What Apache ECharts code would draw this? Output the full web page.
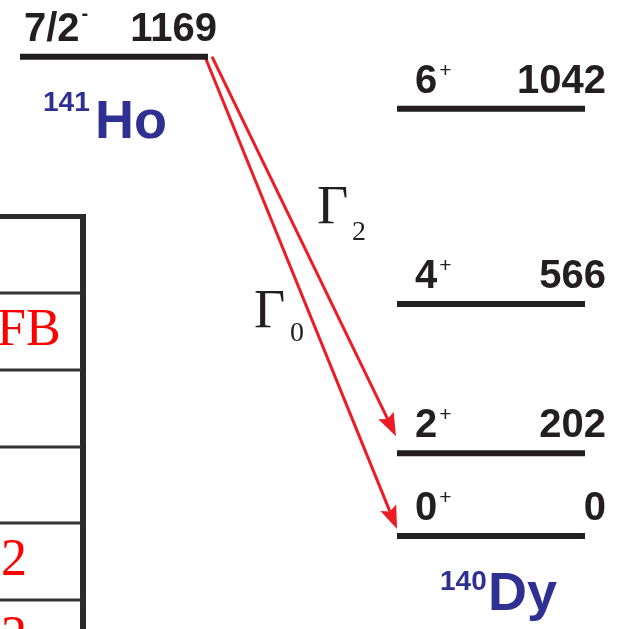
<!DOCTYPE html>
<html><head><meta charset="utf-8">
<script src="https://cdn.jsdelivr.net/npm/echarts@6/dist/echarts.min.js"></script>
<style>html,body{margin:0;padding:0;background:#fff;overflow:hidden}#c{width:621px;height:629px}</style>
</head><body><div id="c"></div>
<script>
// ---------------- data ----------------
const hoEnergies = [1169];
const hoSpins = ['7/2'];
const hoParities = ['-'];
const dyEnergies = [1042, 566, 202, 0];
const dySpins = ['6', '4', '2', '0'];
const dyParities = ['+', '+', '+', '+'];
const gammaFrom = [1169, 1169];
const gammaTo = [0, 202];
const gammaSubs = ['0', '2'];
const nuclideMass = ['141', '140'];
const nuclideSym = ['Ho', 'Dy'];
const tableTexts = ['', 'FB', '', '', '2', '2'];

// ---------------- layout / style ----------------
const Y_MIN = -226.8, Y_MAX = 1307.3;
const INK = '#231f20', RED = '#ed1c24', BLUE = '#2e3192', TRED = '#ff0000';
const SANS = '"Liberation Sans", Arial, sans-serif';
const SERIF = '"Liberation Serif", "Times New Roman", serif';
const LEVEL_FS = 40;
const hoLayout = {x1: 20, x2: 208, spinX: 24, energyX: 217};
const dyLayout = {x1: 397, x2: 585, spinX: 415, energyX: 606};
const arrowLayout = [
  {x0: 205, x1: 397, startDy: 0, gap: 7},
  {x0: 212, x1: 396, startDy: 0, gap: 17}
];
const gammaLabelPos = [
  {gx: 254, gy: 313, sx: 290, sy: 334},
  {gx: 317, gy: 209, sx: 352, sy: 233}
];
const nuclidePos = [
  {mx: 43, my: 103, sx: 95, sy: 123},
  {mx: 440, my: 582, sx: 488, sy: 595}
];
const tableRowsY = [217, 293, 370, 447, 523, 600, 677];

const _ctx = document.createElement('canvas').getContext('2d');
function measure(t, font) { _ctx.font = font; return _ctx.measureText(t).width; }

function txt(text, x, y, size, weight, family, fill, align) {
  return {type: 'text', style: {text: text, x: x, y: y, fontSize: size, fontWeight: weight,
    fontFamily: family, fill: fill, align: align || 'left', verticalAlign: 'middle',
    textAlign: align || 'left', textVerticalAlign: 'middle'}};
}

function levelSeries(energies, spins, parities, L) {
  return {
    type: 'custom', coordinateSystem: 'cartesian2d', silent: true, clip: false,
    data: energies.map((e, i) => [i, e]),
    encode: {x: 0, y: 1},
    renderItem: function (params, api) {
      const i = params.dataIndex;
      const E = api.value(1);
      const a = api.coord([L.x1, E]), b = api.coord([L.x2, E]);
      const y = a[1];
      const cy = y - 27;
      const sw = measure(spins[i], 'bold ' + LEVEL_FS + 'px ' + SANS);
      const par = parities[i];
      const parEl = par === '-'
        ? txt('-', L.spinX + sw + 2, cy - 15, 20, 'bold', SANS, INK)
        : txt('+', L.spinX + sw + 2, cy - 11, 21, 'normal', SANS, INK);
      return {type: 'group', children: [
        {type: 'line', shape: {x1: a[0], y1: y, x2: b[0], y2: y}, style: {stroke: INK, lineWidth: 6}},
        txt(spins[i], L.spinX, cy, LEVEL_FS, 'bold', SANS, INK),
        parEl,
        txt(String(energies[i]), L.energyX, cy, LEVEL_FS, 'bold', SANS, INK, 'right')
      ]};
    }
  };
}

const arrowSeries = {
  type: 'custom', coordinateSystem: 'cartesian2d', silent: true, clip: false,
  data: gammaFrom.map((f, i) => [i, f, gammaTo[i]]),
  encode: {x: 0, y: [1, 2]},
  renderItem: function (params, api) {
    const i = params.dataIndex, L = arrowLayout[i];
    const s = api.coord([L.x0, api.value(1)]); s[1] += L.startDy;
    const t = api.coord([L.x1, api.value(2)]); t[1] -= L.gap;
    const dx = t[0] - s[0], dy = t[1] - s[1], len = Math.hypot(dx, dy);
    const ux = dx / len, uy = dy / len;
    const HL = 23, HW = 8.5;
    const bx = t[0] - ux * HL, by = t[1] - uy * HL;
    const nx = t[0] - ux * (HL - 4), ny = t[1] - uy * (HL - 4);
    return {type: 'group', children: [
      {type: 'line', shape: {x1: s[0], y1: s[1], x2: nx, y2: ny}, style: {stroke: RED, lineWidth: 3}},
      {type: 'polygon', shape: {points: [[t[0], t[1]], [bx - uy * HW, by + ux * HW], [nx, ny], [bx + uy * HW, by - ux * HW]]},
        style: {fill: RED}}
    ]};
  }
};

// ---------------- graphic (table, labels) ----------------
const graphics = [];
graphics.push({type: 'rect', shape: {x: -5, y: 214, width: 91, height: 5}, style: {fill: '#2b2b2b'}, silent: true});
graphics.push({type: 'rect', shape: {x: 80, y: 214, width: 6, height: 420}, style: {fill: '#2b2b2b'}, silent: true});
for (let k = 1; k < tableRowsY.length - 1; k++) {
  graphics.push({type: 'rect', shape: {x: -5, y: tableRowsY[k] - 1.5, width: 86, height: 3}, style: {fill: '#333333'}, silent: true});
}
tableTexts.forEach((t, k) => {
  if (!t) return;
  const cy = (tableRowsY[k] + tableRowsY[k + 1]) / 2;
  graphics.push(Object.assign(txt(t, t === 'FB' ? -3 : 1, cy, 52, 'normal', SERIF, TRED), {silent: true}));
});
nuclideMass.forEach((m, k) => {
  const p = nuclidePos[k];
  graphics.push(txt(m, p.mx, p.my, 28, 'bold', SANS, BLUE));
  graphics.push(txt(nuclideSym[k], p.sx, p.sy, 54, 'bold', SANS, BLUE));
});
gammaSubs.forEach((s, k) => {
  const p = gammaLabelPos[k];
  graphics.push(txt('\u0393', p.gx, p.gy, 54, 'normal', SERIF, INK));
  graphics.push(txt(s, p.sx, p.sy, 28, 'normal', SERIF, INK));
});

const chart = echarts.init(document.getElementById('c'), null, {renderer: 'canvas'});
chart.setOption({
  animation: false,
  backgroundColor: '#fff',
  grid: {left: 0, right: 0, top: 0, bottom: 0},
  xAxis: {type: 'value', min: 0, max: 621, show: false},
  yAxis: {type: 'value', min: Y_MIN, max: Y_MAX, show: false},
  graphic: {elements: graphics},
  series: [
    arrowSeries,
    levelSeries(hoEnergies, hoSpins, hoParities, hoLayout),
    levelSeries(dyEnergies, dySpins, dyParities, dyLayout)
  ]
});
</script></body></html>
